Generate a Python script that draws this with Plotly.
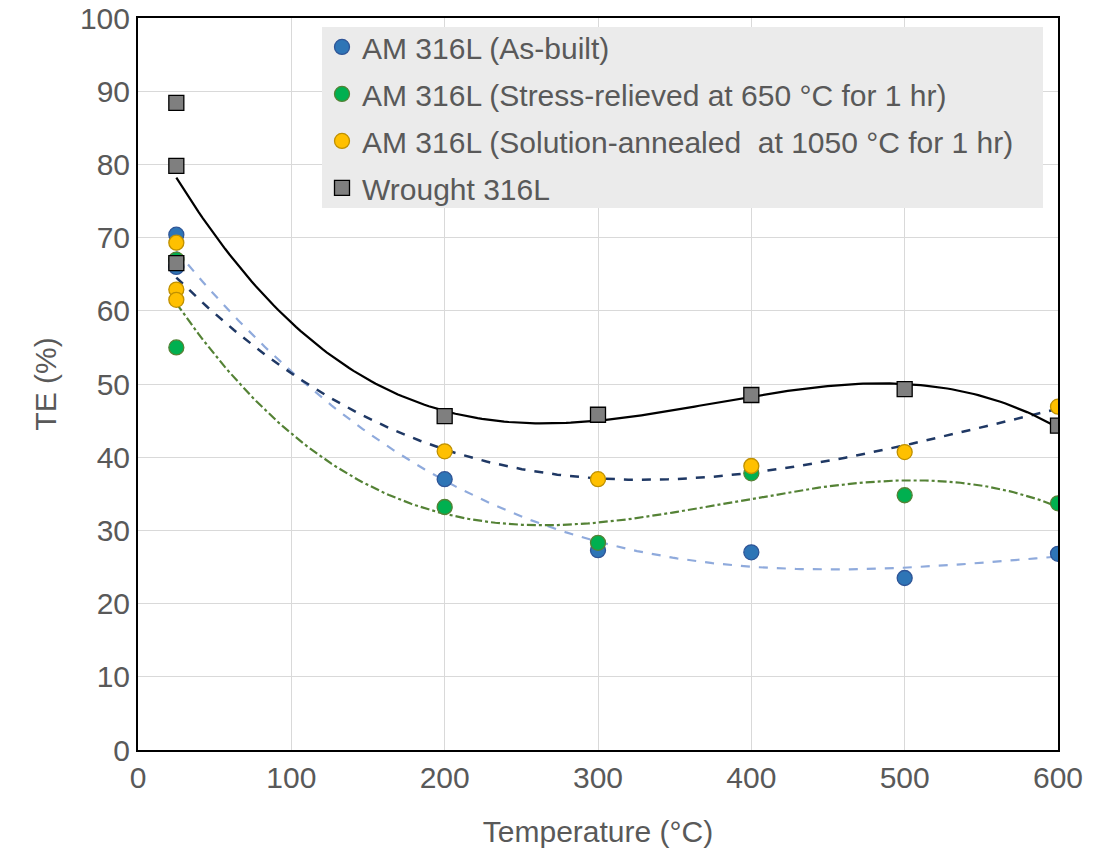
import numpy as np
import plotly.graph_objects as go

# ---- data ----
asbuilt_T = [25, 25, 200, 300, 400, 500, 600]
asbuilt_TE = [70.4, 66.0, 37.0, 27.3, 27.0, 23.5, 26.8]

stress_T = [25, 25, 200, 300, 400, 500, 600]
stress_TE = [67.0, 55.0, 33.2, 28.3, 37.8, 34.8, 33.7]

solution_T = [25, 25, 25, 200, 300, 400, 500, 600]
solution_TE = [69.3, 62.9, 61.5, 40.8, 37.0, 38.8, 40.7, 46.9]

wrought_T = [25, 25, 25, 200, 300, 400, 500, 600]
wrought_TE = [88.4, 79.8, 66.5, 45.6, 45.8, 48.5, 49.3, 44.3]

names = [
    "AM 316L (As-built)",
    "AM 316L (Stress-relieved at 650 °C for 1 hr)",
    "AM 316L (Solution-annealed\u00a0 at 1050 °C for 1 hr)",
    "Wrought 316L",
]

FONT = "Liberation Sans, Arial, sans-serif"
TXT = "#595959"
FS = 30

fig = go.Figure()

# polynomial (order 3) trendlines, fitted to each series like the original
def trend(xs, ys, color, dash, width):
    c = np.polyfit(xs, ys, 3)
    xx = np.linspace(min(xs), max(xs), 200)
    fig.add_trace(go.Scatter(x=xx, y=np.polyval(c, xx), mode="lines",
                             line=dict(color=color, dash=dash, width=width),
                             showlegend=False, hoverinfo="skip"))

trend(asbuilt_T, asbuilt_TE, "#8FAADC", "dash", 2.2)
trend(stress_T, stress_TE, "#548235", "dashdot", 2.2)
trend(solution_T, solution_TE, "#1F3864", "dash", 2.5)
trend(wrought_T, wrought_TE, "#000000", "solid", 2.2)

series = [
    (asbuilt_T, asbuilt_TE, names[0], "circle", "#2E75B6", "#2F5597"),
    (stress_T, stress_TE, names[1], "circle", "#00B050", "#548235"),
    (solution_T, solution_TE, names[2], "circle", "#FFC000", "#BF9000"),
    (wrought_T, wrought_TE, names[3], "square", "#7F7F7F", "#000000"),
]
for i, (xs, ys, nm, sym, fc, lc) in enumerate(series):
    fig.add_trace(go.Scatter(x=xs, y=ys, mode="markers", name=nm,
                             legendgroup=f"g{i}",
                             marker=dict(symbol=sym, size=15, color=fc,
                                         line=dict(color=lc, width=1.3))))

# legend background panel (wider than plotly's auto legend box)
fig.add_shape(type="rect", xref="paper", yref="paper",
              x0=0.2, x1=0.9837, y0=0.7404, y1=0.9877,
              fillcolor="#EBEBEB", line=dict(width=0), layer="above")

fig.update_layout(
    width=1094, height=857,
    margin=dict(l=138, r=36, t=18, b=107),
    paper_bgcolor="white", plot_bgcolor="white",
    font=dict(family=FONT, size=FS, color=TXT),
    legend=dict(x=0.2, y=0.996, xanchor="left", yanchor="top",
                bgcolor="rgba(0,0,0,0)", font=dict(size=FS, color=TXT),
                tracegroupgap=5, traceorder="grouped",
                itemwidth=30),
    showlegend=True,
)
fig.update_xaxes(range=[0, 600], dtick=100, showgrid=True, gridcolor="#D9D9D9",
                 gridwidth=1.3, showline=True, linecolor="black", linewidth=2,
                 mirror=True, ticks="", zeroline=False, automargin=False,
                 title=dict(text="Temperature (°C)", font=dict(size=FS, color=TXT), standoff=28),
                 tickfont=dict(size=FS, color=TXT))
fig.update_yaxes(range=[0, 100], dtick=10, showgrid=True, gridcolor="#D9D9D9",
                 gridwidth=1.3, showline=True, linecolor="black", linewidth=2,
                 mirror=True, ticks="", zeroline=False, automargin=False,
                 title=dict(text="TE (%)", font=dict(size=FS, color=TXT), standoff=14),
                 tickfont=dict(size=FS, color=TXT))

fig.write_html("out.html")
